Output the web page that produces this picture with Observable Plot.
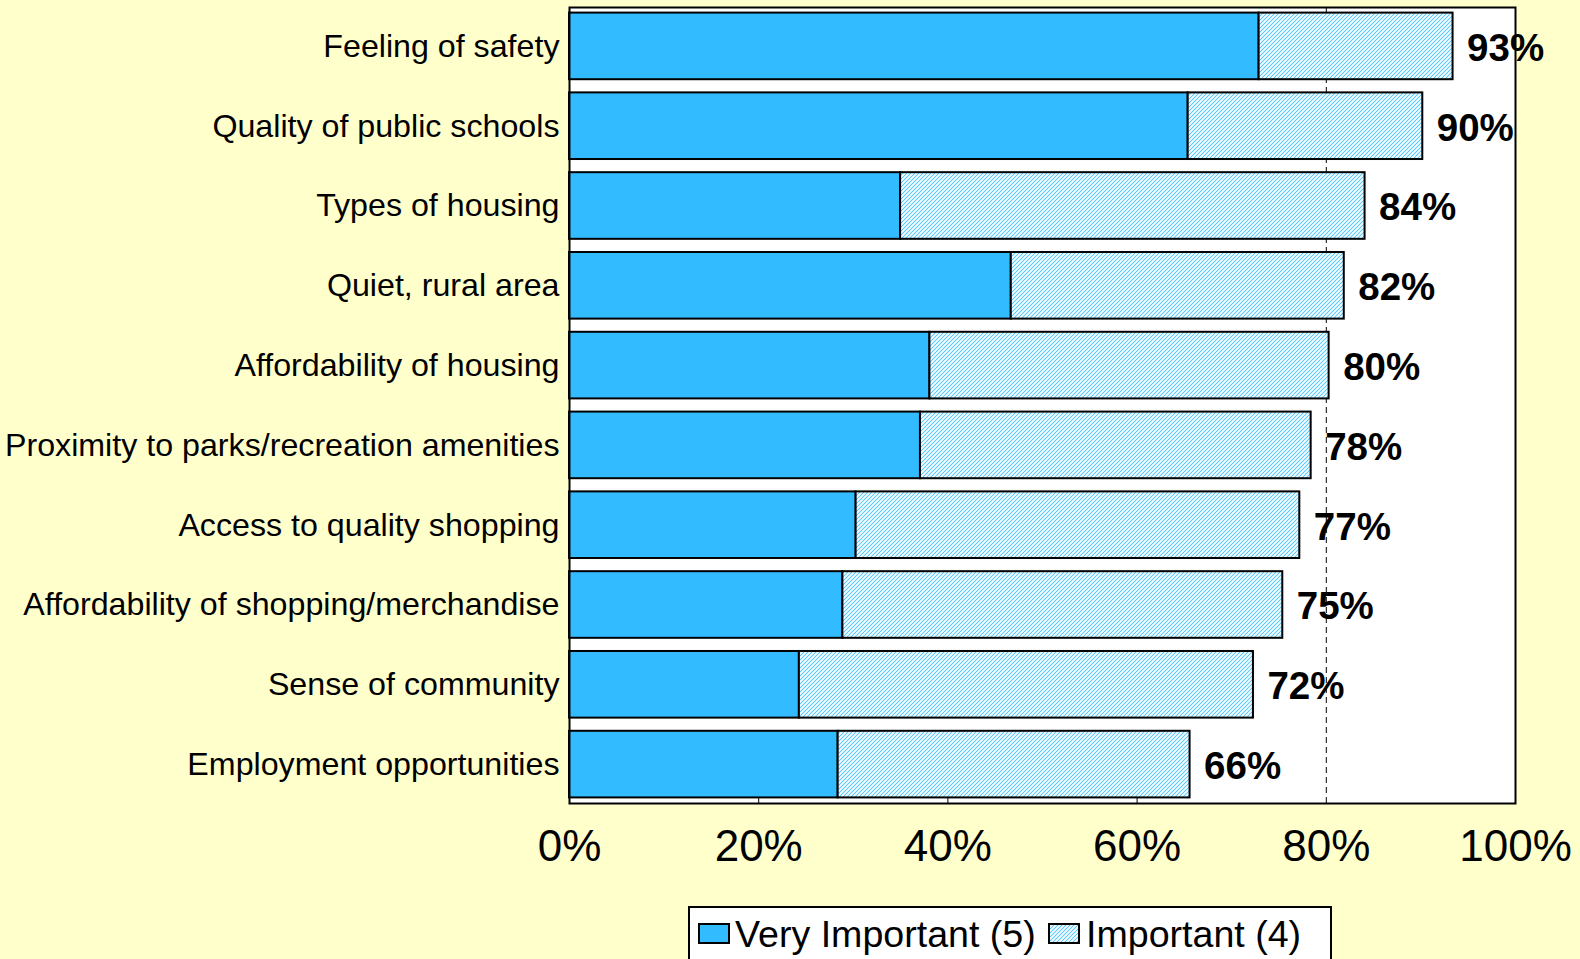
<!DOCTYPE html>
<html>
<head>
<meta charset="utf-8">
<script src="https://cdn.jsdelivr.net/npm/d3@7"></script>
<script src="https://cdn.jsdelivr.net/npm/@observablehq/plot@0.6"></script>
<style>
html, body { margin: 0; padding: 0; background: #FFFFCC; width: 1580px; height: 959px; overflow: hidden; font-family: "Liberation Sans", Arial, sans-serif; }
#chart svg { display: block; overflow: visible; }
#legend { position: relative; margin-left: 688px; margin-top: 6px; width: 644px; height: 80px; background: #fff; border: 2px solid #000; box-sizing: border-box; }
#legend .sw { position: absolute; top: 15px; width: 32px; height: 21px; border: 2px solid #000; box-sizing: border-box; overflow: hidden; }
#legend .sw svg { display: block; }
#legend .lt { position: absolute; top: 8px; font-size: 37.6px; line-height: 37px; color: #000; white-space: nowrap; }
</style>
</head>
<body>
<svg width="0" height="0" style="position:absolute">
  <defs>
    <pattern id="hatch" patternUnits="userSpaceOnUse" width="4" height="4">
      <rect width="4" height="4" fill="#d8f2ff"/>
      <g fill="#5cc9ff" shape-rendering="crispEdges">
        <rect x="0" y="3" width="1" height="1"/>
        <rect x="1" y="2" width="1" height="1"/>
        <rect x="2" y="1" width="1" height="1"/>
        <rect x="3" y="0" width="1" height="1"/>
      </g>
      <g fill="#f0faff" shape-rendering="crispEdges">
        <rect x="2" y="3" width="1" height="1"/>
        <rect x="3" y="2" width="1" height="1"/>
        <rect x="0" y="1" width="1" height="1"/>
        <rect x="1" y="0" width="1" height="1"/>
      </g>
    </pattern>
  </defs>
</svg>
<div id="chart"></div>
<div id="legend"></div>
<script>
const categories = [
  "Feeling of safety",
  "Quality of public schools",
  "Types of housing",
  "Quiet, rural area",
  "Affordability of housing",
  "Proximity to parks/recreation amenities",
  "Access to quality shopping",
  "Affordability of shopping/merchandise",
  "Sense of community",
  "Employment opportunities"
];
const veryImportant = [72.9, 65.4, 35.0, 46.7, 38.1, 37.1, 30.3, 28.9, 24.3, 28.4];
const important = [20.5, 24.8, 49.1, 35.2, 42.2, 41.3, 46.9, 46.5, 48.0, 37.2];
const totals = [93, 90, 84, 82, 80, 78, 77, 75, 72, 66];
const series = ["Very Important (5)", "Important (4)"];
const xTicks = [0, 20, 40, 60, 80, 100];
const minorTicks = [20, 40, 60];
const referenceLine = [80];

const long = [];
categories.forEach((c, i) => {
  long.push({category: c, series: series[0], value: veryImportant[i]});
  long.push({category: c, series: series[1], value: important[i]});
});
const rows = categories.map((c, i) => ({category: c, end: veryImportant[i] + important[i], total: totals[i]}));

const fills = ["#33bbff", "url(#hatch)"];

const chart = Plot.plot({
  width: 1580,
  height: 900,
  marginTop: 7,
  marginBottom: 97,
  marginLeft: 569,
  marginRight: 65,
  style: {background: "none", fontFamily: "'Liberation Sans', Arial, sans-serif", color: "#000", overflow: "visible"},
  x: {domain: [0, 100]},
  y: {domain: categories, paddingInner: 0.165, paddingOuter: 0.07, round: false},
  color: {domain: series, range: fills},
  marks: [
    Plot.frame({fill: "#ffffff", stroke: null}),
    Plot.ruleX(referenceLine, {stroke: "#000", strokeWidth: 1, strokeDasharray: "6,4"}),
    Plot.ruleX(minorTicks, {stroke: "#000", strokeWidth: 1, insetTop: 790}),
    Plot.barX(long, {x: "value", y: "category", fill: "series", stroke: "#000", strokeWidth: 2}),
    Plot.text(rows, {x: "end", y: "category", text: d => d.total + "%", textAnchor: "start", dx: 14, dy: 2, fontSize: 38.5, fontWeight: "bold", fill: "#000"}),
    Plot.frame({stroke: "#000", strokeWidth: 2}),
    Plot.axisX({ticks: xTicks, tickFormat: d => d + "%", tickSize: 0, tickPadding: 26, fontSize: 44, label: null}),
    Plot.axisY({tickSize: 0, tickPadding: 10, fontSize: 32.2, label: null})
  ]
});
document.getElementById("chart").appendChild(chart);

const legend = document.getElementById("legend");
const swatchLeft = [8, 358];
const textLeft = [45, 396];
series.forEach((s, i) => {
  const sw = document.createElement("div");
  sw.className = "sw";
  sw.style.left = swatchLeft[i] + "px";
  if (i === 0) sw.style.background = fills[0];
  else sw.innerHTML = '<svg width="28" height="17"><rect width="28" height="17" fill="' + fills[1] + '"/></svg>';
  legend.appendChild(sw);
  const t = document.createElement("div");
  t.className = "lt";
  t.style.left = textLeft[i] + "px";
  t.textContent = s;
  legend.appendChild(t);
});
</script>
</body>
</html>
